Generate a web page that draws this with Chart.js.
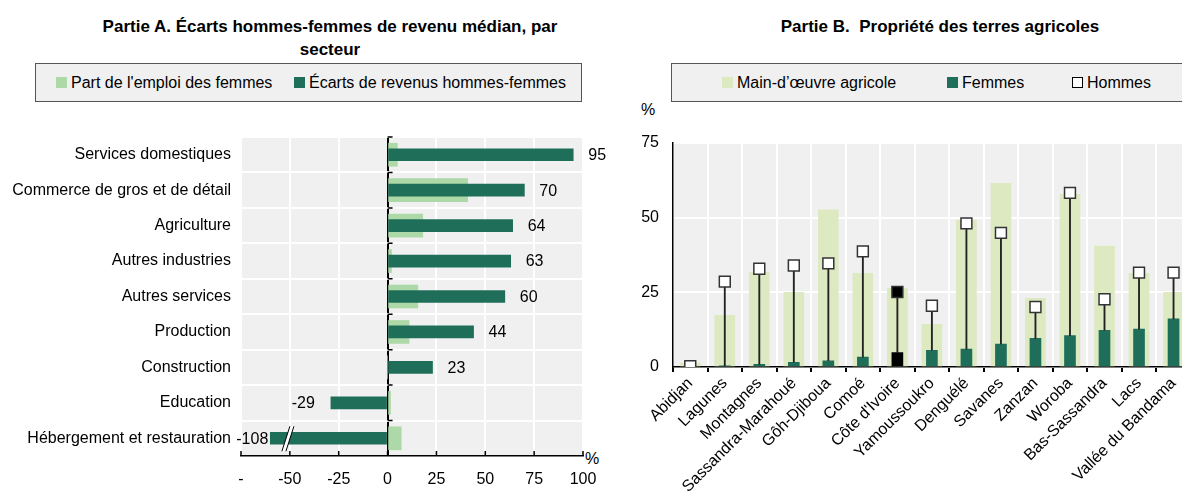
<!DOCTYPE html>
<html lang="fr">
<head>
<meta charset="utf-8">
<script src="https://cdn.jsdelivr.net/npm/chart.js@4.4.1/dist/chart.umd.min.js"></script>
<style>
html, body { margin: 0; padding: 0; overflow: hidden; background: #fff; }
body { width: 1182px; height: 491px; position: relative; font-family: "Liberation Sans", Arial, sans-serif; color: #000; }
.title { position: absolute; top: 15px; font-weight: bold; font-size: 17px; line-height: 23px; text-align: center; }
.legend { position: absolute; top: 63px; height: 39px; background: #f0f0f0; border: 1px solid #555; box-sizing: border-box; font-size: 16px; }
.legend .item { position: absolute; top: 0; height: 100%; display: flex; align-items: center; white-space: nowrap; }
.legend .sw { display: inline-block; width: 11px; height: 11px; margin-right: 4px; box-sizing: border-box; }
.unit { position: absolute; font-size: 16px; }
.panel { position: absolute; top: 100px; height: 391px; }
</style>
</head>
<body>

<div class="title" style="left:90px; width:480px;">Partie A. Écarts hommes-femmes de revenu médian, par secteur</div>
<div class="legend" style="left:35px; width:547px;">
  <span class="item" style="left:20px;"><i class="sw" style="background:#acd9a7"></i>Part de l'emploi des femmes</span>
  <span class="item" style="left:258px;"><i class="sw" style="background:#1f6e5a"></i>Écarts de revenus hommes-femmes</span>
</div>

<div class="title" style="left:690px; width:500px;">Partie B.&nbsp; Propriété des terres agricoles</div>
<div class="legend" style="left:671px; width:530px;">
  <span class="item" style="left:50px;"><i class="sw" style="background:#dde9c0"></i>Main-d’œuvre agricole</span>
  <span class="item" style="left:275px;"><i class="sw" style="background:#1f6e5a"></i>Femmes</span>
  <span class="item" style="left:400px;"><i class="sw" style="background:#fff; border:1px solid #000"></i>Hommes</span>
</div>

<div class="unit" style="left:585px; top:450px;">%</div>
<div class="unit" style="left:641px; top:101px;">%</div>

<div class="panel" style="left:0; width:615px;"><canvas id="gapChart"></canvas></div>
<div class="panel" style="left:620px; width:580px;"><canvas id="landChart"></canvas></div>

<script>
// Partie A
const sectors = ['Services domestiques', 'Commerce de gros et de détail', 'Agriculture', 'Autres industries',
  'Autres services', 'Production', 'Construction', 'Education', 'Hébergement et restauration'];
const womenShare = [5, 41, 18, 2, 15.5, 11, 0, 1.5, 7];
const earningsGap = [95, 70, 64, 63, 60, 44, 23, -29, -108];
const gapCut = -60; // longer bars are cut here (axis break)

// Partie B
const regions = ['Abidjan', 'Lagunes', 'Montagnes', 'Sassandra-Marahoué', 'Gôh-Djiboua', 'Comoé', "Côte d'Ivoire",
  'Yamoussoukro', 'Denguélé', 'Savanes', 'Zanzan', 'Woroba', 'Bas-Sassandra', 'Lacs', 'Vallée du Bandama'];
const agriLabour = [1.3, 17.3, 31.8, 25, 52.6, 31.4, 26.3, 14.3, 49.2, 61.5, 23, 57.8, 40.5, 31.4, 25];
const landWomen = [0.2, 0.4, 0.9, 1.6, 2.1, 3.3, 4.8, 5.6, 6, 7.7, 9.6, 10.5, 12.3, 12.7, 16.1];
const landMen = [0.3, 28.6, 32.9, 34, 34.7, 38.7, 25.1, 20.5, 48.1, 44.9, 20.1, 58.3, 22.7, 31.6, 31.6];
const national = "Côte d'Ivoire";

const darkGreen = '#1f6e5a';
const fontFamily = '"Liberation Sans", Arial, sans-serif';

Chart.defaults.font.family = fontFamily;
Chart.defaults.font.size = 16;
Chart.defaults.color = '#000';
Chart.defaults.animation = false;

// grey plot background
const plotBg = {
    id: 'plotBg',
    beforeDraw(chart) {
        const a = chart.chartArea;
        chart.ctx.save();
        chart.ctx.fillStyle = '#f0f0f0';
        chart.ctx.fillRect(a.left, a.top, a.right - a.left, a.bottom - a.top);
        chart.ctx.restore();
    }
};

// value labels, axis break and little tick marks for panel A
const gapExtras = {
    id: 'gapExtras',
    afterDatasetsDraw(chart) {
        const ctx = chart.ctx;
        const a = chart.chartArea;
        const x = chart.scales.x, y = chart.scales.y;
        const meta = chart.getDatasetMeta(0);
        ctx.save();
        ctx.font = '16px ' + fontFamily;
        ctx.fillStyle = '#000';
        ctx.textBaseline = 'middle';
        meta.data.forEach((bar, i) => {
            const v = earningsGap[i];
            const cut = v < gapCut;
            if (v >= 0) {
                ctx.textAlign = 'left';
                ctx.fillText(v, bar.x + 15, bar.y + 1);
            } else {
                ctx.textAlign = 'right';
                ctx.fillText(v, bar.x - (cut ? 2 : 16), bar.y + 1);
            }
            if (cut) {
                const cx = x.getPixelForValue(-51);
                ctx.beginPath();
                ctx.moveTo(cx - 6, bar.y + 13);
                ctx.lineTo(cx + 2, bar.y - 12);
                ctx.lineTo(cx + 6, bar.y - 12);
                ctx.lineTo(cx - 2, bar.y + 13);
                ctx.closePath();
                ctx.fillStyle = '#fff';
                ctx.fill();
                ctx.strokeStyle = '#000';
                ctx.lineWidth = 1;
                ctx.beginPath();
                ctx.moveTo(cx - 6, bar.y + 13); ctx.lineTo(cx + 2, bar.y - 12);
                ctx.moveTo(cx - 2, bar.y + 13); ctx.lineTo(cx + 6, bar.y - 12);
                ctx.stroke();
                ctx.fillStyle = '#000';
            }
        });
        ctx.strokeStyle = '#000';
        ctx.lineWidth = 1.5;
        ctx.beginPath();
        x.ticks.forEach(t => {
            const px = x.getPixelForValue(t.value);
            ctx.moveTo(px, a.bottom);
            ctx.lineTo(px, a.bottom - 5);
        });
        const x0 = x.getPixelForValue(0);
        const half = (a.bottom - a.top) / sectors.length / 2;
        sectors.forEach((s, i) => {
            const yb = y.getPixelForValue(i) - half;
            ctx.moveTo(x0, yb);
            ctx.lineTo(x0 + 5, yb);
        });
        ctx.stroke();
        ctx.restore();
    }
};

new Chart(document.getElementById('gapChart'), {
    type: 'bar',
    data: {
        labels: sectors,
        datasets: [{
            label: 'Écarts de revenus hommes-femmes',
            data: earningsGap.map(v => Math.max(v, gapCut)),
            backgroundColor: darkGreen,
            barThickness: 12,
            grouped: false,
            order: 0
        }, {
            label: "Part de l'emploi des femmes",
            data: womenShare,
            backgroundColor: '#acd9a7',
            barThickness: 23,
            grouped: false,
            order: 1
        }]
    },
    options: {
        indexAxis: 'y',
        responsive: true,
        maintainAspectRatio: false,
        layout: { padding: { top: 37, right: 32, left: 0, bottom: 0 } },
        plugins: { legend: { display: false }, tooltip: { enabled: false } },
        events: [],
        scales: {
            x: {
                min: -75,
                max: 100,
                ticks: {
                    stepSize: 25,
                    padding: 0,
                    callback: v => v === -75 ? '-' : v
                },
                grid: {
                    color: c => c.tick && c.tick.value === 0 ? '#000' : '#fff',
                    lineWidth: 2,
                    drawTicks: true,
                    tickLength: 14,
                    tickColor: 'rgba(0,0,0,0)'
                },
                border: { color: '#000', width: 1.5 },
                afterFit: s => { s.height = 35; }
            },
            y: {
                ticks: { padding: 10 },
                grid: { color: '#fff', lineWidth: 2, drawTicks: false },
                border: { display: false },
                afterFit: s => { s.width = 241; }
            }
        }
    },
    plugins: [plotBg, gapExtras]
});

new Chart(document.getElementById('landChart'), {
    type: 'bar',
    data: {
        labels: regions,
        datasets: [{
            type: 'line',
            label: 'Hommes',
            data: landMen,
            showLine: false,
            pointStyle: 'rect',
            pointRadius: 7.7,
            pointHoverRadius: 7.7,
            pointBackgroundColor: c => regions[c.dataIndex] === national ? '#000' : '#fff',
            pointBorderColor: '#333',
            pointBorderWidth: 1.5,
            order: 0
        }, {
            label: 'écart',
            data: regions.map((r, i) => [landWomen[i], landMen[i]]),
            backgroundColor: '#222',
            barThickness: 1.2,
            grouped: false,
            order: 1
        }, {
            label: 'Femmes',
            data: landWomen,
            backgroundColor: c => regions[c.dataIndex] === national ? '#000' : darkGreen,
            barThickness: 11,
            grouped: false,
            order: 2
        }, {
            label: 'Main-d’œuvre agricole',
            data: agriLabour,
            backgroundColor: '#dde9c0',
            barThickness: 20,
            grouped: false,
            order: 3
        }]
    },
    options: {
        responsive: true,
        maintainAspectRatio: false,
        layout: { padding: { top: 43, right: 1, left: 0, bottom: 0 } },
        plugins: { legend: { display: false }, tooltip: { enabled: false } },
        events: [],
        scales: {
            x: {
                ticks: { minRotation: 45, maxRotation: 45, autoSkip: false, padding: 2 },
                grid: { color: '#fff', lineWidth: 2, tickColor: '#000', tickLength: 5 },
                border: { color: '#000', width: 1.5 },
                afterFit: s => { s.height = 124; }
            },
            y: {
                min: 0,
                max: 75,
                ticks: { stepSize: 25, padding: 14 },
                grid: { color: '#fff', lineWidth: 2, drawTicks: false },
                border: { color: '#000', width: 1.5 },
                afterFit: s => { s.width = 53; }
            }
        }
    },
    plugins: [plotBg]
});
</script>
</body>
</html>
